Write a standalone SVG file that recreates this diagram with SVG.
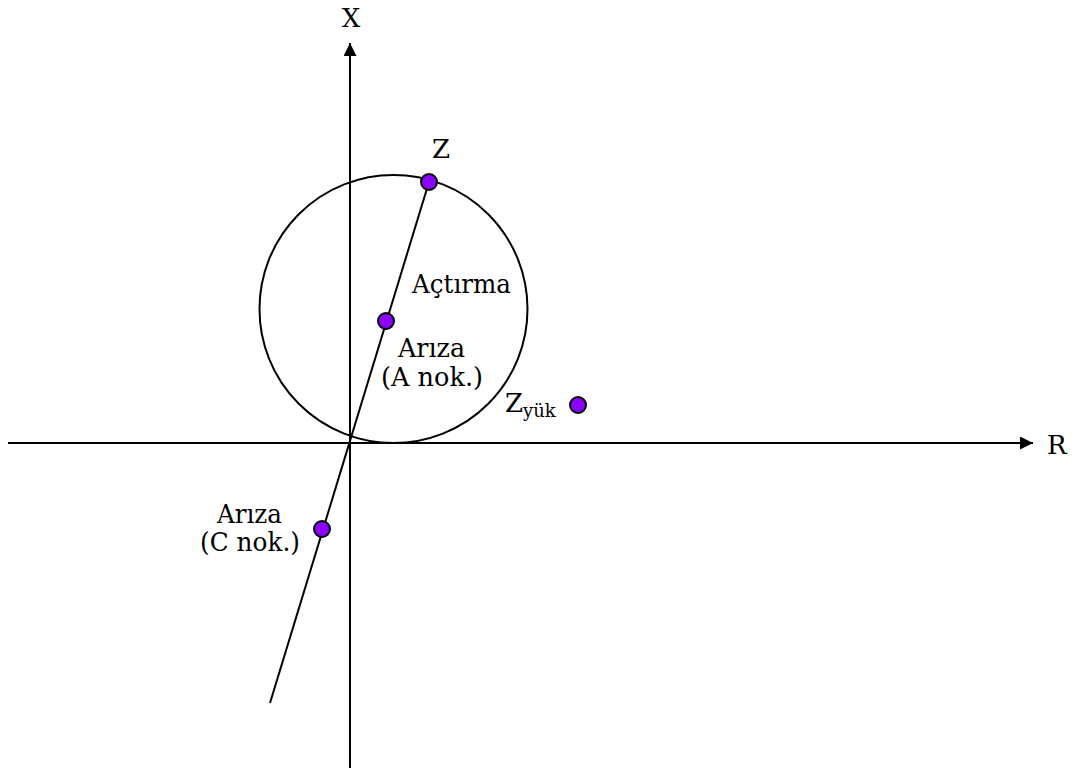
<svg xmlns="http://www.w3.org/2000/svg" width="1080" height="770" viewBox="0 0 1080 770">
<style>
text{font-family:'DejaVu Serif','Liberation Serif',serif;font-size:26px;fill:#000}
.ln{stroke:#000;stroke-width:2;fill:none}
.pt{fill:#8B00FF;stroke:#000;stroke-width:2}
</style>
<defs>
<marker id="ar" viewBox="0 0 10 10" refX="10" refY="5" markerWidth="15" markerHeight="13" markerUnits="userSpaceOnUse" orient="auto">
<path d="M0,0 L10,5 L0,10 z" fill="#000"/>
</marker>
</defs>
<rect width="1080" height="770" fill="#fff"/>
<g id="connectors">
<line class="ln" x1="350" y1="768" x2="350" y2="43" marker-end="url(#ar)"/>
<line class="ln" x1="8" y1="443" x2="1033" y2="443" marker-end="url(#ar)"/>
<circle class="ln" cx="393.5" cy="309" r="134"/>
<line class="ln" x1="270" y1="703" x2="429" y2="182"/>
</g>
<g id="axis-x"><text x="351" y="27" text-anchor="middle">X</text></g>
<g id="axis-r"><text x="1047" y="454">R</text></g>
<g id="node-z">
<circle class="pt" cx="429" cy="182" r="8"/>
<text x="432" y="158">Z</text>
</g>
<g id="label-trip"><text x="412" y="293" textLength="99" lengthAdjust="spacingAndGlyphs">Açtırma</text></g>
<g id="node-a">
<circle class="pt" cx="386" cy="321" r="8"/>
<text x="398" y="357" textLength="67" lengthAdjust="spacingAndGlyphs">Arıza</text>
<text x="381" y="386" textLength="102" lengthAdjust="spacingAndGlyphs">(A nok.)</text>
</g>
<g id="node-zyuk">
<circle class="pt" cx="578" cy="405" r="8"/>
<text x="505" y="412">Z<tspan font-size="18" dy="5">yük</tspan></text>
</g>
<g id="node-c">
<circle class="pt" cx="322" cy="529" r="8"/>
<text x="217" y="523" textLength="65" lengthAdjust="spacingAndGlyphs">Arıza</text>
<text x="200" y="551" textLength="100" lengthAdjust="spacingAndGlyphs">(C nok.)</text>
</g>
</svg>
